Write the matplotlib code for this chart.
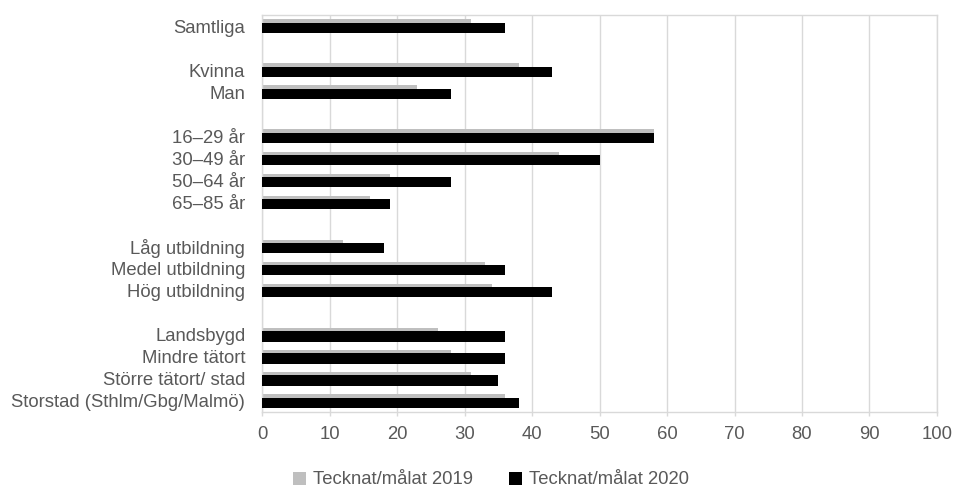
import matplotlib
matplotlib.use("Agg")
import matplotlib.pyplot as plt
import numpy as np
from matplotlib.patches import Patch

plt.rcParams['font.family'] = ['Liberation Sans', 'DejaVu Sans']

categories = ["Samtliga", "", "Kvinna", "Man", "",
              "16–29 år", "30–49 år", "50–64 år", "65–85 år", "",
              "Låg utbildning", "Medel utbildning", "Hög utbildning", "",
              "Landsbygd", "Mindre tätort", "Större tätort/ stad",
              "Storstad (Sthlm/Gbg/Malmö)"]
values_2019 = [31, None, 38, 23, None, 58, 44, 19, 16, None,
               12, 33, 34, None, 26, 28, 31, 36]
values_2020 = [36, None, 43, 28, None, 58, 50, 28, 19, None,
               18, 36, 43, None, 36, 36, 35, 38]
series_names = ["Tecknat/målat 2019", "Tecknat/målat 2020"]
xticks = list(range(0, 101, 10))

text_color = "#595959"
grid_color = "#d9d9d9"
c2019 = "#bfbfbf"
c2020 = "#000000"
fs = 13.3

fig = plt.figure(figsize=(9.54, 4.91), dpi=100)
ax = fig.add_axes([262/954, 1 - 412/491, (937-262)/954, (412-15)/491])

y = np.arange(len(categories))
idx = [i for i, v in enumerate(values_2019) if v is not None]
h = 0.46
ax.barh([y[i] - 0.08 for i in idx], [values_2019[i] for i in idx], height=h,
        color=c2019, zorder=2)
ax.barh([y[i] + 0.075 for i in idx], [values_2020[i] for i in idx], height=h,
        color=c2020, zorder=3)

ax.set_ylim(len(categories) - 0.5, -0.5)
ax.set_xlim(0, 100)
ax.set_xticks(xticks)
ax.set_yticks(y)
ax.set_yticklabels(categories)
ax.tick_params(axis='y', length=0, pad=12, labelsize=fs, labelcolor=text_color)
ax.tick_params(axis='x', length=3, width=1, color=grid_color, pad=7,
               labelsize=fs, labelcolor=text_color)
ax.xaxis.grid(True, color=grid_color, linewidth=1, zorder=0)
ax.set_axisbelow(True)
for s in ax.spines.values():
    s.set_color(grid_color)
    s.set_linewidth(1)

handles = [Patch(facecolor=c2019, label=series_names[0]),
           Patch(facecolor=c2020, label=series_names[1])]
fig.legend(handles=handles, loc='center', bbox_to_anchor=(491/954, 1 - 480/491),
           ncol=2, frameon=False, fontsize=fs, labelcolor=text_color,
           handlelength=0.72, handleheight=0.7, handletextpad=0.38, columnspacing=1.95)

fig.savefig("out.png", dpi=100)
